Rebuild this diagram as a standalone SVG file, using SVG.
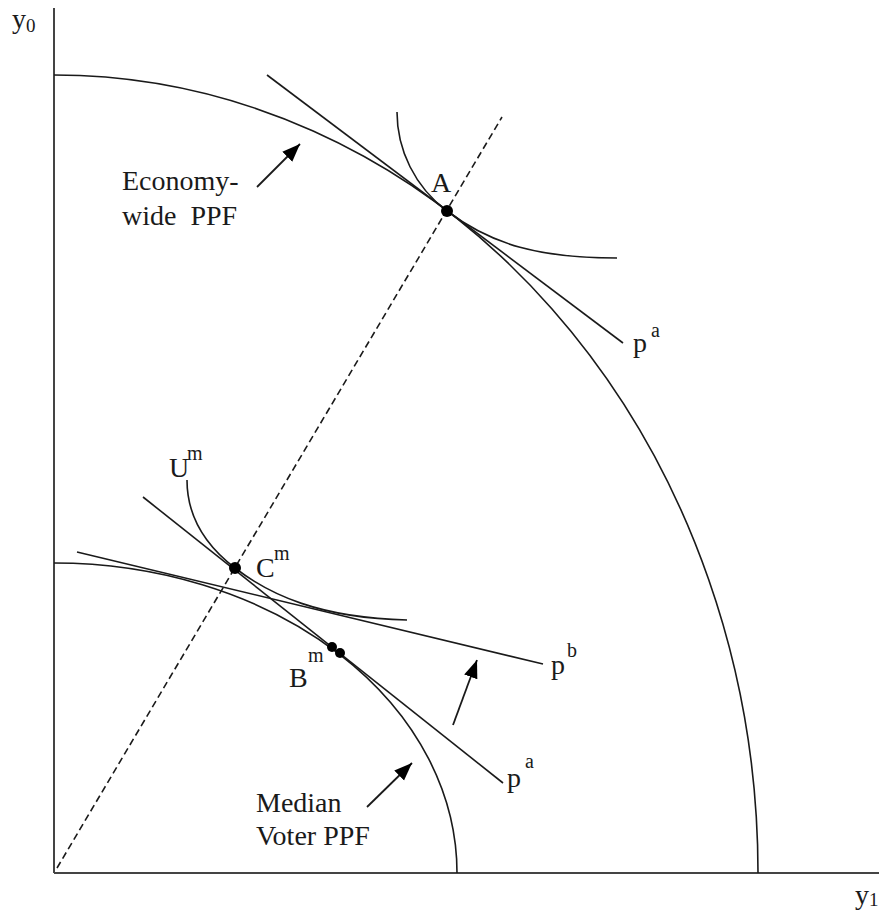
<svg xmlns="http://www.w3.org/2000/svg" width="879" height="914" viewBox="0 0 879 914">
<style>
.ax{stroke:#444;stroke-width:2;fill:none}
.crv{stroke:#1a1a1a;stroke-width:1.6;fill:none}
.dash{stroke:#1a1a1a;stroke-width:1.6;fill:none;stroke-dasharray:7 4}
.arr{stroke:#1a1a1a;stroke-width:1.8;fill:none;marker-end:url(#ah)}
.dot{fill:#000}
.lb{font-size:28px}
.sup{font-size:20px}
</style>
<defs>
<marker id="ah" markerUnits="userSpaceOnUse" markerWidth="20" markerHeight="16" refX="18" refY="8" orient="auto">
<path d="M0,1 L18,8 L0,15 Z" fill="#000"/>
</marker>
</defs>
<rect width="879" height="914" fill="#fff"/>
<g font-family="Liberation Serif, DejaVu Serif, serif" fill="#1a1a1a">
<g id="axes">
<line class="ax" x1="54" y1="8" x2="54" y2="873"/>
<line class="ax" x1="54" y1="873" x2="879" y2="873"/>
<text class="lb" x="12" y="28">y<tspan font-size="19" dy="4">0</tspan></text>
<text class="lb" x="855" y="904">y<tspan font-size="19" dy="2">1</tspan></text>
</g>
<g id="economy-ppf">
<path class="crv" d="M54,75 A704,798 0 0 1 758,873"/>
<text class="lb" x="122" y="190">Economy-</text>
<text class="lb" x="122" y="225" xml:space="preserve">wide  PPF</text>
</g>
<g id="median-ppf">
<path class="crv" d="M54,563 A403,310 0 0 1 457,873"/>
<text class="lb" x="256" y="812">Median</text>
<text class="lb" x="256" y="845">Voter PPF</text>
</g>
<g id="ray">
<line class="dash" x1="57" y1="868" x2="502" y2="117"/>
</g>
<g id="point-A">
<line class="crv" x1="267" y1="75" x2="623" y2="343"/>
<path class="crv" d="M397,112 C397,150 415,187 447,211 C492,245 540,258 617,258"/>
<circle class="dot" cx="447" cy="211" r="6"/>
<text class="lb" x="431" y="192">A</text>
<text class="lb" x="633" y="352">p</text>
<text class="sup" x="651" y="337">a</text>
</g>
<g id="point-Cm">
<line class="crv" x1="143" y1="497" x2="503" y2="783"/>
<path class="crv" d="M187,480 C187,515 205,545 235,568 C270,595 320,618 407,620"/>
<circle class="dot" cx="235" cy="568" r="6"/>
<text class="lb" x="169" y="477">U</text>
<text class="sup" x="187" y="460">m</text>
<text class="lb" x="256" y="577">C</text>
<text class="sup" x="274" y="560">m</text>
<text class="lb" x="507" y="787">p</text>
<text class="sup" x="525" y="768">a</text>
</g>
<g id="point-Bm">
<line class="crv" x1="77" y1="552" x2="543" y2="664"/>
<circle class="dot" cx="332" cy="647" r="5"/>
<circle class="dot" cx="340" cy="653" r="5"/>
<text class="lb" x="289" y="687">B</text>
<text class="sup" x="308" y="662">m</text>
<text class="lb" x="551" y="674">p</text>
<text class="sup" x="567" y="657">b</text>
</g>
<g id="connectors">
<line class="arr" x1="257" y1="187" x2="300" y2="144"/>
<line class="arr" x1="367" y1="807" x2="412" y2="763"/>
<line class="arr" x1="453" y1="725" x2="477" y2="660"/>
</g>
</g>
</svg>
